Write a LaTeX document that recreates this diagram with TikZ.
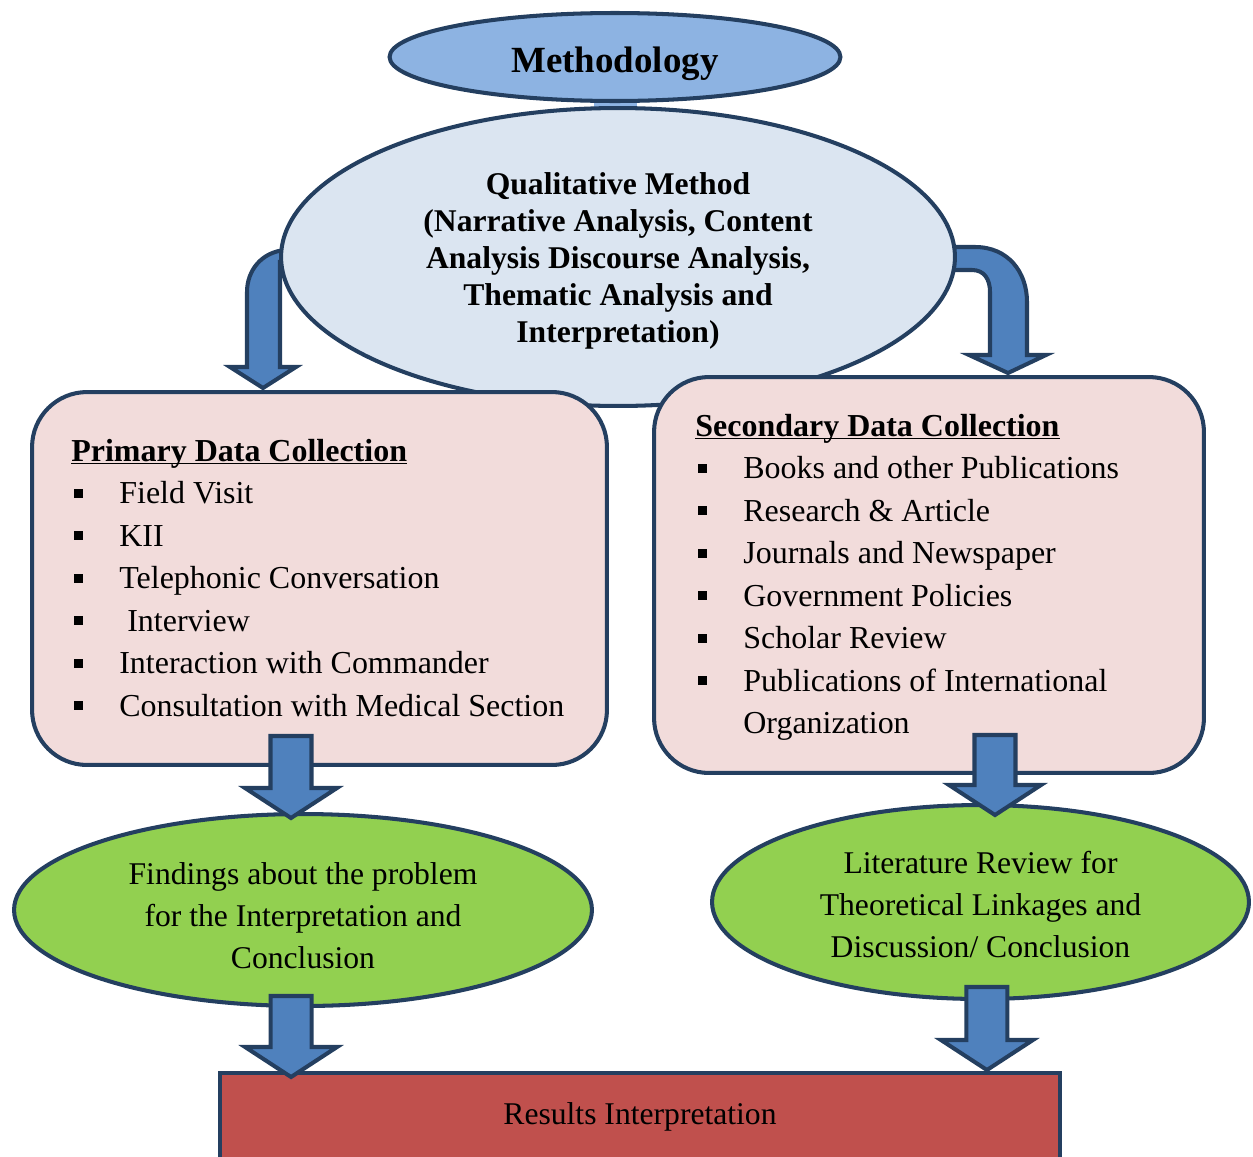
\documentclass[tikz,border=0pt]{standalone}
\usepackage{fontspec}
\setmainfont{Liberation Serif}
\usetikzlibrary{shapes.geometric,calc}
\definecolor{navyLine}{HTML}{243F60}
\definecolor{methBlue}{HTML}{8DB3E2}
\definecolor{qualBlue}{HTML}{DBE5F1}
\definecolor{cardPink}{HTML}{F2DCDB}
\definecolor{leafGreen}{HTML}{92D050}
\definecolor{arrowBlue}{HTML}{4F81BD}
\definecolor{resultRed}{HTML}{C0504D}

% square bullet with the gap up to the item text
\newcommand{\sqItem}{\makebox[0.96cm][l]{\hspace{0.06cm}\rule[0.12cm]{0.18cm}{0.18cm}}}
% block arrow pointing down, #1 tip, #2 shaft length (px)
\newcommand{\blockArrow}[2]{\draw[blockShape] (#1) -- ++(-46,-30) -- ++(25.5,0) -- ++(0,-#2) -- ++(41,0) -- ++(0,#2) -- ++(25.5,0) -- cycle;}

\begin{document}
\begin{tikzpicture}[
  x=0.02cm, y=-0.02cm,
  oval/.style={ellipse, draw=navyLine, line width=2.3pt, inner sep=0pt, align=center},
  methOval/.style={oval, fill=methBlue, minimum width=9.02cm, minimum height=1.76cm, font=\fontsize{21}{25}\selectfont\bfseries},
  qualOval/.style={oval, fill=qualBlue, minimum width=13.48cm, minimum height=5.96cm, font=\fontsize{18}{21}\selectfont\bfseries},
  leafOval/.style={oval, fill=leafGreen, font=\fontsize{18}{24}\selectfont},
  dataCard/.style={draw=navyLine, fill=cardPink, line width=2.3pt, rounded corners=1.1cm, inner sep=0pt},
  listText/.style={anchor=north west, align=left, inner sep=0pt, font=\fontsize{18.2}{24.2}\selectfont},
  resultBox/.style={draw=navyLine, fill=resultRed, line width=2.3pt, inner sep=0pt, minimum width=16.8cm, minimum height=1.74cm, font=\fontsize{18}{21}\selectfont},
  blockShape/.style={draw=navyLine, fill=arrowBlue, line width=2.3pt, line join=miter},
  bridge/.style={draw=methBlue, line width=0.86cm}
]
\useasboundingbox (0,0) rectangle (1253,1156);

% bottom result
\node[resultBox] (res) at (640,1116.5) {Results Interpretation};

% outcome ovals
\node[leafOval, minimum width=11.56cm, minimum height=3.84cm] (find) at (303,910)
  {\rule{0pt}{19.1pt}Findings about the problem\\for the Interpretation and\\Conclusion};
\node[leafOval, minimum width=10.74cm, minimum height=3.88cm] (lit) at (980.5,902)
  {\rule{0pt}{15.7pt}Literature Review for\\Theoretical Linkages and\\Discussion/ Conclusion};

% bent arrows behind the method oval
\draw[blockShape] (310,250) -- (285,250) .. controls (262,252) and (247,270) .. (247,292)
  -- (247,367) -- (230,367) -- (263,388) -- (296,367) -- (280,367) -- (280,262) -- (310,262) -- cycle;
\draw[blockShape] (940,247) -- (975,247) .. controls (1008,247) and (1027,272) .. (1027,302)
  -- (1027,355) -- (1046,355) -- (1008,373) -- (969,355) -- (990,355) -- (990,292)
  .. controls (990,279) and (984,270) .. (972,270) -- (940,270) -- cycle;

% top ovals
\draw[bridge] (615,100) -- (615,108);
\node[qualOval] (qual) at (618,257)
  {\rule{0pt}{16.8pt}Qualitative Method\\(Narrative Analysis, Content\\Analysis Discourse Analysis,\\Thematic Analysis and\\Interpretation)};
\node[methOval] (meth) at (615,57) {\raisebox{0pt}[17.8pt][0pt]{Methodology}};

% data collection cards
\node[dataCard, minimum width=11.5cm, minimum height=7.46cm] (prim) at (319.5,578.5) {};
\node[dataCard, minimum width=11.0cm, minimum height=7.92cm] (sec) at (929,575) {};

\node[listText] (primList) at (71,438.6) {%
  \underline{\raisebox{0pt}[\height][0pt]{\textbf{Primary Data Collection}}}\\
  \sqItem Field Visit\\
  \sqItem KII\\
  \sqItem Telephonic Conversation\\
  \sqItem\ Interview\\
  \sqItem Interaction with Commander\\
  \sqItem Consultation with Medical Section};
\node[listText] (secList) at (695,413.6) {%
  \underline{\raisebox{0pt}[\height][0pt]{\textbf{Secondary Data Collection}}}\\
  \sqItem Books and other Publications\\
  \sqItem Research \& Article\\
  \sqItem Journals and Newspaper\\
  \sqItem Government Policies\\
  \sqItem Scholar Review\\
  \sqItem Publications of International\\
  \makebox[0.96cm]{}Organization};

% straight arrows
\coordinate (primTip) at ($(find.north)+(-12,6)$);
\coordinate (secTip) at ($(lit.north)+(14.5,12)$);
\coordinate (findTip) at ($(res.north west)+(73,6)$);
\coordinate (litTip) at ($(res.north east)+(-75,-1)$);
\blockArrow{primTip}{52}
\blockArrow{secTip}{50}
\blockArrow{findTip}{51}
\blockArrow{litTip}{53}
\end{tikzpicture}
\end{document}
